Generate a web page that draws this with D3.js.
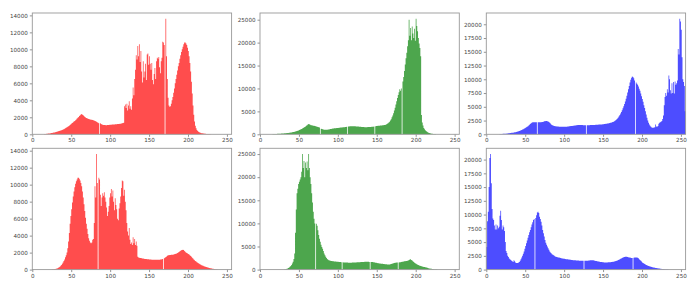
<!DOCTYPE html>
<html>
<head>
<meta charset="utf-8">
<script src="https://cdn.jsdelivr.net/npm/d3@7"></script>
<style>
  body { margin: 0; background: #fff; }
  svg text { font-family: "DejaVu Sans", sans-serif; }
</style>
</head>
<body>
<div id="chart"></div>
<script>

// histogram counts per intensity bin (0..255)
var redTop = [
  0,0,0,0,0,0,0,0,0,0,0,0,0,10,20,30,
  40,50,60,70,80,90,100,120,140,160,180,200,220,250,280,310,
  340,370,400,430,460,490,520,560,600,650,700,760,820,880,950,1020,
  1100,1180,1260,1340,1420,1500,1580,1660,1750,1850,1950,2050,2150,2250,2330,2380,
  2300,2250,2150,2050,1980,1920,1880,1840,1800,1770,1750,1720,1700,1680,1650,1620,
  1580,1540,1480,1420,1360,1300,0,1300,1200,1150,1120,1100,1100,1090,1080,1080,
  1090,1100,1100,1110,1120,1130,1140,1150,1150,1160,1170,1180,1190,1200,1210,1220,
  1230,1250,1270,1290,1320,1360,3300,3500,3100,3600,2800,3400,3900,3000,3300,2900,
  4200,5500,4600,6500,7600,9300,8800,10400,9200,10600,8500,9800,7400,6100,8600,6700,
  7400,8300,6400,9400,9500,8200,9200,8300,7600,8400,6400,5900,7100,7800,6500,8600,
  9000,8900,9100,7900,7200,8600,9000,10900,10800,10500,0,13600,9200,6500,4300,3400,
  3250,3300,3600,4000,4400,4900,5400,6000,6500,7000,7500,8000,8400,8900,9300,9700,
  10000,10300,10600,10800,10800,10700,10500,10200,9800,9200,8400,7400,6200,4800,3400,2300,
  1500,1000,700,500,380,300,240,200,160,130,110,90,80,70,60,50,
  45,40,35,30,25,20,18,15,12,10,8,6,5,4,3,2,
  0,0,0,0,0,0,0,0,0,0,0,0,0,0,0,0
];

var greenTop = [
  0,0,0,0,0,0,0,0,0,0,0,0,0,10,20,30,
  40,50,60,70,80,90,100,110,120,130,140,150,160,170,190,210,
  230,250,270,290,310,330,350,380,410,440,480,520,560,610,660,720,
  780,850,920,1000,1080,1170,1260,1360,1460,1570,1700,1850,2000,2150,2250,2200,
  2100,2000,1950,1900,1880,1850,1800,1750,1700,1650,1600,1550,1500,0,1200,1150,
  1100,1050,1000,980,970,980,1000,1030,1060,1100,1150,1180,1210,1240,1270,1300,
  1320,1340,1360,1380,1400,1420,1440,1460,1480,1500,1520,1540,1560,1580,1600,1620,
  0,1700,1720,1740,1750,1760,1760,1750,1750,1740,1730,1720,1700,1690,1680,1660,
  1640,1620,1600,1590,1580,1570,1560,1560,1560,1560,1570,1570,1580,1590,1600,1620,
  1640,1660,1680,0,1760,1800,1820,1840,1860,1880,1900,1920,1940,1960,1990,2020,
  2050,2100,2180,2280,2400,2550,2750,3000,3300,3700,4100,4600,5200,5800,6500,7200,
  7900,8600,9200,9800,9500,10000,0,11500,12500,13800,15200,16600,17800,19200,20500,25000,
  21500,23200,20500,23500,22000,21000,23000,20400,25200,23600,22500,21000,19800,18800,17000,4200,
  2600,1900,1400,1100,900,700,560,440,350,280,220,170,130,100,80,60,
  50,40,30,20,15,10,8,6,4,2,0,0,0,0,0,0,
  0,0,0,0,0,0,0,0,0,0,0,0,0,0,0,0
];

var blueTop = [
  0,0,0,0,0,0,0,0,0,0,0,0,0,0,10,20,
  30,40,50,60,70,80,90,100,110,120,140,160,180,200,220,240,
  260,280,300,330,360,390,420,460,500,550,600,660,720,790,860,940,
  1020,1100,1180,1270,1370,1480,1600,1730,1870,2000,2100,2170,2200,2200,2200,2210,
  2200,0,2190,2180,2180,2190,2200,2220,2250,2300,2350,2380,2400,2400,2380,2330,
  2250,2100,1950,1800,1680,1600,1550,1510,1480,1460,1440,1420,1400,1390,1380,1370,
  1360,1350,1350,1350,1350,1360,1370,1390,1410,1430,1450,1470,1490,1510,1530,1550,
  1570,1590,1610,1630,1650,1670,1680,1690,1700,1690,1680,1670,1660,1650,1650,1650,
  0,1650,1650,1660,1660,1670,1670,1680,1680,1690,1700,1710,1720,1730,1740,1750,
  1760,1770,1780,1790,1800,1820,1840,1860,1880,1900,1920,1950,1980,2010,2040,2080,
  2120,2170,2230,2300,2380,2470,2580,2720,2880,3060,3270,3500,3760,4050,4370,4720,
  5100,5500,5950,6450,7000,7600,8200,8800,9400,9900,10300,10500,10400,10200,9800,0,
  9400,9200,9000,8700,8300,7900,7400,6900,6400,5900,5300,4800,4200,3600,3000,2500,
  2100,1800,1550,1350,1250,1200,1200,1250,1300,1800,1400,1350,1500,1900,2100,2200,
  2300,2400,2800,3400,5300,6800,7500,7000,8200,7600,10700,10000,8000,7400,9300,7500,
  9500,7400,9600,9000,9300,9800,15500,14500,21000,20500,19000,14000,10000,9500,8800,4200
];

var redBottom = [
  0,0,0,0,0,0,0,0,0,0,0,0,0,0,0,0,
  0,0,0,0,0,10,15,20,25,30,40,50,60,80,100,130,
  170,220,280,350,440,550,680,830,1000,1200,1450,1700,2000,2500,3300,4300,
  5400,6300,7100,7900,8600,9200,9700,10100,10400,10600,10800,10800,10700,10500,10200,9800,
  9200,8500,7700,6900,6100,5400,4800,4200,3700,3400,3200,3100,3200,3500,3600,5500,
  9800,8500,13600,10200,0,10800,10600,8800,7500,8500,9000,8700,9100,8500,8000,7300,
  6300,6800,7500,8500,9000,9500,8600,9300,8000,7000,8400,7600,7100,6000,5800,7200,
  7800,8600,9600,10500,10400,8700,9400,8000,7000,5500,4500,4000,4900,3500,3000,3200,
  2900,3800,3100,3600,2900,3300,2800,1500,1420,1400,1380,1360,1340,1320,1300,1280,
  1260,1250,1240,1230,1220,1210,1200,1190,1180,1170,1160,1150,1150,1150,1150,1150,
  1150,1150,1160,1170,1180,1200,1220,1250,0,1350,1400,1480,1550,1620,1680,1700,
  1720,1730,1740,1750,1760,1780,1800,1830,1870,1910,1960,2020,2080,2150,2210,2270,
  2320,2350,2300,2200,2100,2000,1950,1900,1850,1780,1700,1600,1500,1400,1300,1200,
  1100,1000,950,880,800,740,680,620,570,520,480,440,400,360,330,300,
  270,240,210,190,170,150,130,110,90,75,60,50,40,30,20,15,
  10,5,0,0,0,0,0,0,0,0,0,0,0,0,0,0
];

var greenBottom = [
  0,0,0,0,0,0,0,0,0,0,0,0,0,0,0,0,
  0,0,0,0,0,0,0,0,0,0,0,0,10,20,30,50,
  80,120,180,260,360,480,620,800,1000,1300,1700,2300,3500,8000,13000,16500,
  17500,18500,19000,19500,20000,21200,25000,22000,23500,20000,23200,22000,23400,21500,25000,22000,
  20000,18500,16500,14500,12500,11000,10000,0,9900,9500,8500,7500,6700,6000,5400,4900,
  4500,4000,3500,3100,2800,2500,2300,2150,2050,1980,1920,1880,1850,1820,1800,1780,
  1760,1740,1720,1700,1680,1660,1640,1620,1600,0,1580,1560,1550,1540,1530,1520,
  1510,1500,1500,1500,1500,1500,1510,1520,1530,1540,1550,1560,1570,1580,1590,1600,
  1610,1620,1630,1640,1650,1660,1680,1700,1710,1700,1690,1680,1670,0,1650,1640,
  1620,1600,1570,1540,1500,1460,1420,1390,1360,1330,1300,1280,1260,1240,1220,1200,
  1180,1160,1140,1120,1100,1100,1120,1150,1200,1260,1320,1380,1420,1460,1500,1520,
  1540,0,1560,1580,1600,1640,1680,1720,1760,1800,1820,1840,1860,1900,1980,2100,
  2200,2250,2100,1950,1800,1650,1500,1380,1260,1150,1050,970,900,840,780,720,
  670,620,580,540,500,480,460,360,300,260,220,190,160,140,120,100,
  85,70,60,50,40,30,22,15,10,5,0,0,0,0,0,0,
  0,0,0,0,0,0,0,0,0,0,0,0,0,0,0,0
];

var blueBottom = [
  4100,8800,10500,15000,20300,21000,15700,11000,9300,9000,8000,7300,8200,7300,8000,7500,
  7800,9800,10700,9000,7300,8000,7700,7000,5000,3400,3000,2500,2300,2000,1900,1750,
  1600,1500,1400,1700,1500,1300,1200,1180,1200,1300,1400,1600,1900,2200,2500,2900,
  3300,3800,4300,4800,5300,5800,6300,6800,7200,7700,8200,8600,9000,9200,0,9400,
  9900,10400,10500,10300,9600,9200,8700,8000,7200,6600,6000,5400,4900,4500,4200,3900,
  3600,3300,3100,2950,2800,2700,2600,2500,2400,2350,2300,2260,2220,2180,2140,2100,
  2070,2040,2010,1980,1950,1920,1900,1880,1860,1840,1820,1800,1780,1760,1740,1720,
  1700,1690,1680,1670,1660,1650,1640,1630,1620,1610,1600,1600,1600,0,1600,1600,
  1610,1620,1630,1640,1660,1680,1700,1710,1700,1680,1650,1620,1580,1550,1520,1490,
  1460,1430,1400,1380,1360,1340,1320,1310,1300,1300,1300,1310,1320,1330,1340,1350,
  1370,1390,1410,1440,1470,1510,1550,1600,1660,1730,1800,1880,1960,2040,2120,2200,
  2260,2300,2350,2350,2330,2300,2260,2220,2180,2150,2120,2100,0,2150,2200,2200,
  2210,2220,2150,2050,1900,1750,1600,1450,1300,1200,1100,1000,920,850,780,720,
  660,600,550,500,460,420,390,360,330,300,270,250,230,210,190,170,
  150,130,120,100,90,80,70,60,50,45,40,35,30,25,20,15,
  10,8,6,4,2,0,0,0,0,0,0,0,0,0,0,0
];

var xTicks = [0, 50, 100, 150, 200, 250];
var yTicksRed = [0, 2000, 4000, 6000, 8000, 10000, 12000, 14000];
var yTicksGreen = [0, 5000, 10000, 15000, 20000, 25000];
var yTicksBlue = [0, 2500, 5000, 7500, 10000, 12500, 15000, 17500, 20000];

var panels = [
  {data: redTop,      color: "#ff4d4d", ticks: yTicksRed,   col: 0, row: 0},
  {data: greenTop,    color: "#4da64d", ticks: yTicksGreen, col: 1, row: 0},
  {data: blueTop,     color: "#4d4dff", ticks: yTicksBlue,  col: 2, row: 0},
  {data: redBottom,   color: "#ff4d4d", ticks: yTicksRed,   col: 0, row: 1},
  {data: greenBottom, color: "#4da64d", ticks: yTicksGreen, col: 1, row: 1},
  {data: blueBottom,  color: "#4d4dff", ticks: yTicksBlue,  col: 2, row: 1}
];

var colLeft = [32.3, 260, 486.3],
    rowTop = [13, 148.3],
    w = 199.3,
    h = 121.3;

var svg = d3.select("#chart")
  .append("svg")
    .attr("width", 700)
    .attr("height", 290);

panels.forEach(function(p) {
  var g = svg.append("g")
    .attr("transform", "translate(" + colLeft[p.col] + "," + rowTop[p.row] + ")");

  var x = d3.scaleLinear()
    .domain([0, 256])
    .range([0, w]);

  // matplotlib style: 5% headroom above the tallest bin
  var y = d3.scaleLinear()
    .domain([0, d3.max(p.data) * 1.05])
    .range([h, 0]);

  // one step path per histogram so neighbouring bins don't leave seams
  var pts = p.data.map(function(v, i) { return [i, v]; });
  pts.push([256, p.data[255]]);

  var area = d3.area()
    .x(function(d) { return x(d[0]); })
    .y0(y(0))
    .y1(function(d) { return y(d[1]); })
    .curve(d3.curveStepAfter);

  g.append("path")
    .datum(pts)
    .attr("fill", p.color)
    .attr("d", area);

  var xAxis = d3.axisBottom(x)
    .tickValues(xTicks)
    .tickSize(2.5)
    .tickPadding(1.5);

  var yAxis = d3.axisLeft(y)
    .tickValues(p.ticks)
    .tickFormat(d3.format("d"))
    .tickSize(2.5)
    .tickPadding(2);

  var gx = g.append("g")
    .attr("transform", "translate(0," + h + ")")
    .call(xAxis);
  var gy = g.append("g")
    .call(yAxis);

  [gx, gy].forEach(function(a) {
    a.select(".domain").remove();
    a.selectAll(".tick line").attr("stroke", "#666").attr("stroke-width", 0.7);
    a.selectAll(".tick text")
      .attr("fill", "#444")
      .style("font-size", "5.6px")
      .style("font-family", "DejaVu Sans, sans-serif");
  });

  // frame
  g.append("rect")
    .attr("x", 0)
    .attr("y", 0)
    .attr("width", w)
    .attr("height", h)
    .attr("fill", "none")
    .attr("stroke", "#999")
    .attr("stroke-width", 0.9);
});

</script>
</body>
</html>
